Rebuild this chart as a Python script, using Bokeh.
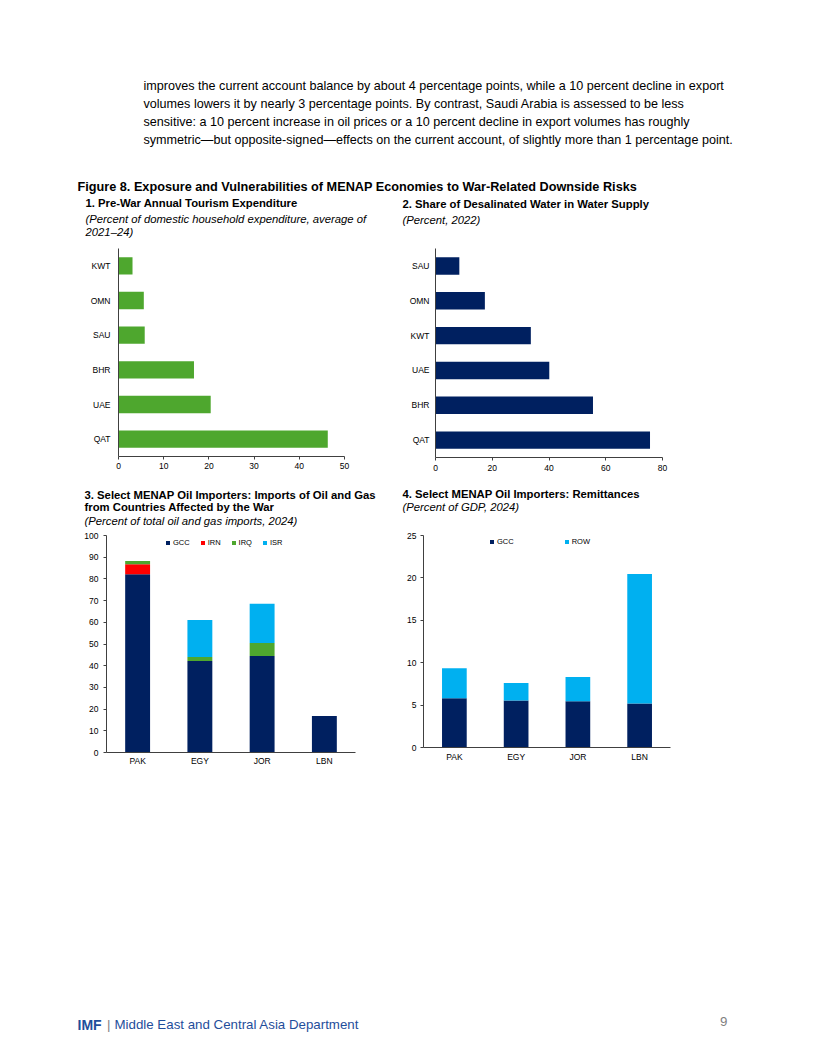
from bokeh.plotting import figure
from bokeh.layouts import column, row
from bokeh.models import Range1d, FactorRange, FixedTicker, ColumnDataSource
from bokeh.core.properties import value
from bokeh.embed import file_html
from bokeh.resources import INLINE

FONT = "Liberation Sans"
NAVY = "#002060"
GREEN = "#4EA72E"
LBLUE = "#00B0F0"
RED = "#FF0000"
AXIS = "#404040"

# ---------------- data ----------------
tour_cats = ["KWT", "OMN", "SAU", "BHR", "UAE", "QAT"]
tour_vals = [3.1, 5.6, 5.8, 16.7, 20.4, 46.3]
tour_ticks = [0, 10, 20, 30, 40, 50]

desal_cats = ["SAU", "OMN", "KWT", "UAE", "BHR", "QAT"]
desal_vals = [8.4, 17.4, 33.6, 40.1, 55.5, 75.6]
desal_ticks = [0, 20, 40, 60, 80]

imp_countries = ["PAK", "EGY", "JOR", "LBN"]
imp_series = ["GCC", "IRN", "IRQ", "ISR"]
imp_gcc = [82.2, 42.2, 44.5, 16.8]
imp_irn = [4.6, 0.0, 0.0, 0.0]
imp_irq = [1.5, 1.8, 6.0, 0.0]
imp_isr = [0.0, 17.1, 18.0, 0.0]
imp_ticks = [0, 10, 20, 30, 40, 50, 60, 70, 80, 90, 100]

rem_countries = ["PAK", "EGY", "JOR", "LBN"]
rem_series = ["GCC", "ROW"]
rem_gcc = [5.8, 5.55, 5.45, 5.2]
rem_row = [3.55, 2.05, 2.85, 15.25]
rem_ticks = [0, 5, 10, 15, 20, 25]

para_lines = [
    "improves the current account balance by about 4 percentage points, while a 10 percent decline in export",
    "volumes lowers it by nearly 3 percentage points. By contrast, Saudi Arabia is assessed to be less",
    "sensitive: a 10 percent increase in oil prices or a 10 percent decline in export volumes has roughly",
    "symmetric\u2014but opposite-signed\u2014effects on the current account, of slightly more than 1 percentage point.",
]
fig_title = "Figure 8. Exposure and Vulnerabilities of MENAP Economies to War-Related Downside Risks"


# ---------------- helpers ----------------
def canvas(y0, y1):
    p = figure(width=800, height=int(round(y1 - y0)), x_range=Range1d(0, 800),
               y_range=Range1d(y1, y0), x_axis_location=None, y_axis_location=None,
               toolbar_location=None, output_backend="svg", min_border=0,
               outline_line_color=None)
    p.grid.visible = False
    return p


def txt(p, x, y, s, size, style="normal", color="#000000", align="left"):
    p.text(x=[x], y=[y], text=[s], text_font=value(FONT), text_font_size=size,
           text_font_style=style, text_color=color, text_align=align,
           text_baseline="middle")


def panel(xr, yr, left, fw, right, top, fh, bottom):
    p = figure(x_range=xr, y_range=yr, frame_width=fw, frame_height=fh,
               min_border_left=left, min_border_right=right, min_border_top=top,
               min_border_bottom=bottom, toolbar_location=None, output_backend="svg",
               outline_line_color=None)
    p.grid.visible = False
    for ax in p.axis:
        ax.axis_line_color = AXIS
        ax.axis_line_width = 1
        ax.major_tick_line_color = AXIS
        ax.major_tick_in = 0
        ax.major_tick_out = 3
        ax.minor_tick_line_color = None
        ax.major_label_text_font = FONT
        ax.major_label_text_font_size = "8.5px"
        ax.major_label_text_color = "#000000"
    return p


def style_legend(p, loc, spacing):
    lg = p.legend[0]
    lg.location = loc
    lg.orientation = "horizontal"
    lg.glyph_width = 5
    lg.glyph_height = 5
    lg.label_height = 8
    lg.label_width = 0
    lg.label_standoff = 3
    lg.spacing = spacing
    lg.padding = 0
    lg.margin = 0
    lg.border_line_color = None
    lg.background_fill_alpha = 0
    lg.label_text_font = FONT
    lg.label_text_font_size = "7.5px"
    lg.label_text_color = "#000000"


# ---------------- header ----------------
head = canvas(0, 240)
for i, line in enumerate(para_lines):
    txt(head, 143, 85.5 + 18 * i, line, "12.6px")
txt(head, 77, 186, fig_title, "12.7px", "bold")
txt(head, 85, 202.5, "1. Pre-War Annual Tourism Expenditure", "11.3px", "bold")
txt(head, 85, 218, "(Percent of domestic household expenditure, average of", "11.3px", "italic")
txt(head, 85, 231.5, "2021\u201324)", "11.3px", "italic")
txt(head, 402, 203, "2. Share of Desalinated Water in Water Supply", "11.3px", "bold")
txt(head, 402, 219, "(Percent, 2022)", "11.3px", "italic")

# ---------------- panel 1 ----------------
p1 = panel(Range1d(0, 50), FactorRange(*reversed(tour_cats)), 118, 226, 46, 8, 208, 24)
src1 = ColumnDataSource(dict(c=tour_cats, v=tour_vals))
p1.hbar(y="c", left=0, right="v", height=0.5, source=src1, fill_color=GREEN, line_color=None)
p1.xaxis.ticker = FixedTicker(ticks=tour_ticks)
p1.xaxis.major_label_standoff = 3
p1.yaxis.major_tick_line_color = None
p1.yaxis.major_tick_out = 0
p1.yaxis.major_label_standoff = 8

# ---------------- panel 2 ----------------
p2 = panel(Range1d(0, 80), FactorRange(*reversed(desal_cats)), 45, 227, 146, 8, 209, 23)
src2 = ColumnDataSource(dict(c=desal_cats, v=desal_vals))
p2.hbar(y="c", left=0, right="v", height=0.5, source=src2, fill_color=NAVY, line_color=None)
p2.xaxis.ticker = FixedTicker(ticks=desal_ticks)
p2.xaxis.major_label_standoff = 4
p2.yaxis.major_tick_line_color = None
p2.yaxis.major_tick_out = 0
p2.yaxis.major_label_standoff = 6

# ---------------- header 2 ----------------
head2 = canvas(480, 530)
txt(head2, 84, 494, "3. Select MENAP Oil Importers: Imports of Oil and Gas", "11.3px", "bold")
txt(head2, 84, 506.5, "from Countries Affected by the War", "11.3px", "bold")
txt(head2, 84, 520, "(Percent of total oil and gas imports, 2024)", "11.3px", "italic")
txt(head2, 402, 493.5, "4. Select MENAP Oil Importers: Remittances", "11.3px", "bold")
txt(head2, 402, 506.5, "(Percent of GDP, 2024)", "11.3px", "italic")

# ---------------- panel 3 ----------------
p3 = panel(FactorRange(*imp_countries), Range1d(0, 100), 106, 249, 35, 4, 217, 19)
src3 = ColumnDataSource(dict(c=imp_countries, GCC=imp_gcc, IRN=imp_irn, IRQ=imp_irq, ISR=imp_isr))
p3.vbar_stack(imp_series, x="c", width=0.4, source=src3,
              fill_color=[NAVY, RED, GREEN, LBLUE], line_color=None,
              legend_label=imp_series)
p3.yaxis.ticker = FixedTicker(ticks=imp_ticks)
p3.yaxis.major_label_standoff = 5
p3.xaxis.major_tick_line_color = None
p3.xaxis.major_tick_out = 0
p3.xaxis.major_label_standoff = 3
style_legend(p3, (59, 205), 10)

# ---------------- panel 4 ----------------
p4 = panel(FactorRange(*rem_countries), Range1d(0, 25), 33, 247, 138, 5, 212, 23)
src4 = ColumnDataSource(dict(c=rem_countries, GCC=rem_gcc, ROW=rem_row))
p4.vbar_stack(rem_series, x="c", width=0.4, source=src4,
              fill_color=[NAVY, LBLUE], line_color=None, legend_label=rem_series)
p4.yaxis.ticker = FixedTicker(ticks=rem_ticks)
p4.yaxis.major_label_standoff = 4
p4.xaxis.major_tick_line_color = None
p4.xaxis.major_tick_out = 0
p4.xaxis.major_label_standoff = 4
style_legend(p4, (66, 201), 50)

# ---------------- footer ----------------
foot = canvas(770, 1040)
txt(foot, 77, 1024, "IMF", "14px", "bold", "#1F4E9B")
txt(foot, 106.5, 1024, "|", "13.3px", "normal", "#7F7F7F")
txt(foot, 114, 1024, "Middle East and Central Asia Department", "13.3px", "normal", "#1F4E9B")
txt(foot, 727, 1021, "9", "13.3px", "normal", "#7F7F7F", "right")

layout = column(head, row(p1, p2), head2, row(p3, p4), foot)

open("out.html", "w").write(file_html(layout, INLINE))
